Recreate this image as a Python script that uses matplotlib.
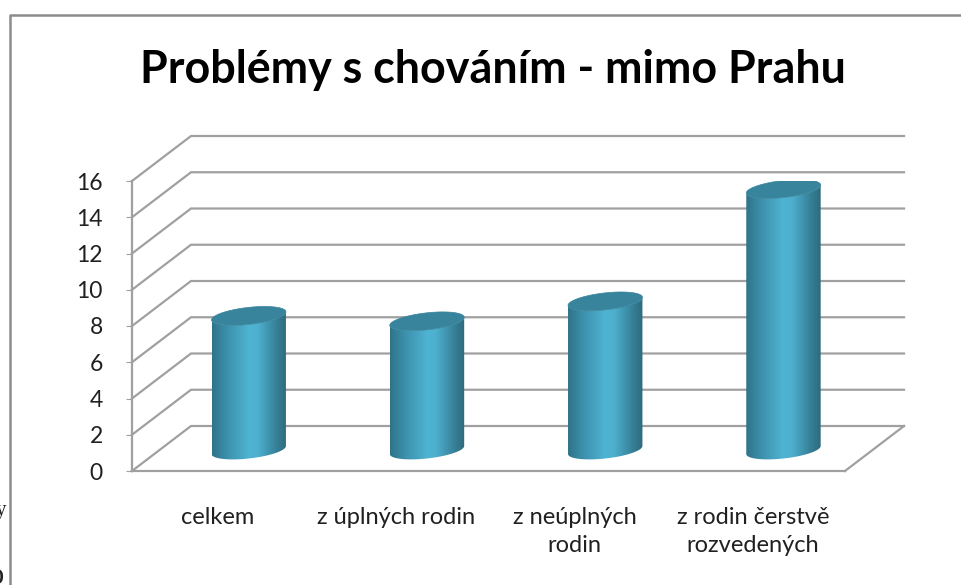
import numpy as np
import matplotlib
matplotlib.use("Agg")
import matplotlib.pyplot as plt
from matplotlib.colors import LinearSegmentedColormap
from matplotlib.lines import Line2D
from matplotlib.patches import Polygon
from matplotlib.transforms import ScaledTranslation

W, H = 961, 585
title = "Problémy s chováním - mimo Prahu"
categories = ["celkem", "z úplných rodin", "z neúplných\nrodin", "z rodin čerstvě\nrozvedených"]
values = [7.4, 7.1, 8.2, 14.4]
yticks = list(range(0, 17, 2))

plt.rcParams['font.family'] = ['Lato', 'DejaVu Sans']
fig = plt.figure(figsize=(W / 100, H / 100), dpi=100, facecolor='white')

# front plane of the pseudo-3D plot, in pixels
L, R, T, B = 132, 845, 181, 471
ax = fig.add_axes([L / W, 1 - B / H, (R - L) / W, (B - T) / H])
ax.set_xlim(-0.5, 3.5)
ax.set_ylim(0, 16)
ux = (R - L) / 4          # px per category
uy = (B - T) / 16         # px per value unit
DX, DY = 59 / ux, 45 / uy  # wall depth in data units
GRID = '#a0a0a0'
LW = 1.6

# walls and floor
for v in yticks:
    ax.add_line(Line2D([-0.5, -0.5 + DX, 3.5 + DX], [v, v + DY, v + DY], color=GRID, lw=LW,
                       clip_on=False, zorder=1, solid_joinstyle='miter'))
ax.add_line(Line2D([3.5 + DX, 3.5], [DY, 0], color=GRID, lw=LW, clip_on=False, zorder=1))

# cylinders
cmap = LinearSegmentedColormap.from_list('cyl', [
    (0.0, '#2f7389'), (0.2, '#3c90ab'), (0.5, '#4fb4d3'), (0.62, '#4cafcd'),
    (0.85, '#37829a'), (1.0, '#2f6a7e')])
TOPC = '#37849c'
hw = 37.2 / ux
mid_x, mid_y = 27.6 / ux, 21 / uy
t = np.linspace(0, 2 * np.pi, 181)
for i, v in enumerate(values):
    cx = i + mid_x
    base = mid_y
    top = v + mid_y
    ex = hw * np.cos(t)
    ey = (4 * np.cos(t) + 8.5 * np.sin(t)) / uy
    lower = (t >= np.pi)
    order = np.argsort(t[lower])
    bx = cx + ex[lower][order]
    by = base + ey[lower][order]
    tx = cx + ex[lower][order][::-1]
    ty = top + ey[lower][order][::-1]
    body = Polygon(np.column_stack([np.r_[bx, tx], np.r_[by, ty]]), closed=True,
                   facecolor='none', edgecolor='none', transform=ax.transData)
    ax.add_patch(body)
    im = ax.imshow(np.linspace(0, 1, 256).reshape(1, -1), cmap=cmap, aspect='auto',
                   extent=[cx - hw, cx + hw, 0, 16], zorder=3, interpolation='bilinear')
    im.set_clip_path(body)
    ax.add_patch(Polygon(np.column_stack([cx + ex, top + ey]), closed=True,
                         facecolor=TOPC, edgecolor=TOPC, lw=0.5, zorder=4))

ax.set_xlim(-0.5, 3.5)
ax.set_ylim(0, 16)

# axes
for s in ('top', 'right'):
    ax.spines[s].set_visible(False)
for s in ('left', 'bottom'):
    ax.spines[s].set_color(GRID)
    ax.spines[s].set_linewidth(LW)
ax.set_yticks(yticks)
ax.set_xticks(range(len(categories)))
ax.set_xticklabels(categories, linespacing=1.4, va='top')
ax.tick_params(axis='y', labelsize=16.5, length=4, color=GRID, pad=17, labelcolor='#202020')
ax.tick_params(axis='x', labelsize=17, length=0, pad=26, labelcolor='#202020')
off = ScaledTranslation(-3 / 100, 0, fig.dpi_scale_trans)
for lab in ax.get_xticklabels():
    lab.set_transform(lab.get_transform() + off)

fig.text(493 / W, 1 - 70 / H, title, ha='center', va='center', fontsize=32.3,
         fontweight='bold', color='#000000')

# chart frame
fig.add_artist(Line2D([9.5 / W, 9.5 / W, 1], [0, 1 - 15 / H, 1 - 15 / H],
                      transform=fig.transFigure, color='#8c8c8c', lw=1.8))

# cropped text fragments of the surrounding page
fig.text(-4 / W, 1 - 510 / H, "y", family='Liberation Serif', fontsize=15, color='#202020',
         ha='left', va='center')
fig.text(-11 / W, 1 - 576 / H, "o", family='Liberation Serif', fontsize=22, color='#202020',
         ha='left', va='center')

fig.savefig('out.png', dpi=100, facecolor='white')
